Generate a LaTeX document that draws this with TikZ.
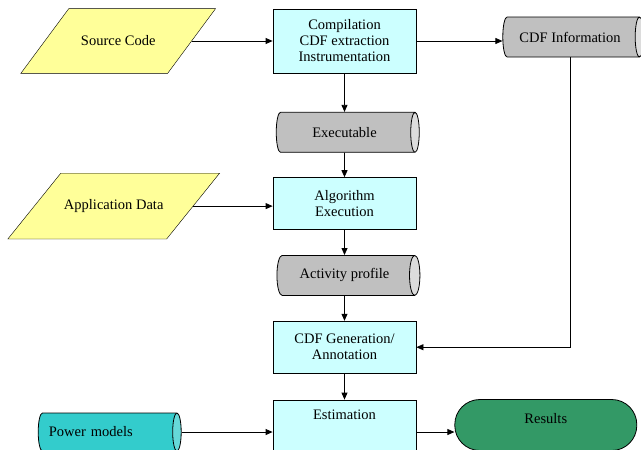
\documentclass[tikz,border=0pt]{standalone}
\usepackage{fontspec}
\setmainfont{Liberation Serif}
\usepackage{tikz}
\usetikzlibrary{arrows.meta, positioning, shapes.geometric, backgrounds}
\usepackage{xcolor}
\definecolor{procfill}{HTML}{CCFFFF}
\definecolor{iofill}{HTML}{FFFF99}
\definecolor{storebody}{HTML}{C0C0C0}
\definecolor{storeend}{HTML}{DCDCDC}
\definecolor{modelbody}{HTML}{33CCCC}
\definecolor{modelend}{HTML}{66D9D9}
\definecolor{resfill}{HTML}{339966}

\begin{document}
\begin{tikzpicture}[
    font=\fontsize{14.5}{16}\selectfont,
    line width=0.8pt,
    proc/.style={draw, fill=procfill, minimum width=143pt, minimum height=52pt,
                 align=center, inner sep=2pt},
    io/.style={minimum width=146pt, minimum height=64pt, inner sep=0pt},
    store/.style={draw, cylinder, aspect=0.6, minimum height=143pt, minimum width=40pt,
                  cylinder uses custom fill, cylinder body fill=storebody,
                  cylinder end fill=storeend, inner sep=2pt},
    arr/.style={-{Triangle[length=7pt, width=6pt]}},
]
\useasboundingbox (0,0) rectangle (641pt,-450pt);

\node[proc, minimum height=64pt] (comp) at (344.5pt,-41pt)
     {Compilation\\CDF extraction\\Instrumentation};
\node[store, below=38.5pt of comp] (exe) {Executable};
\node[proc, below=24.5pt of exe] (alg) {Algorithm\\Execution};
\node[store, below=25pt of alg] (act) {Activity profile};
\node[proc, below=25pt of act] (gen) {CDF Generation/\\Annotation};
\node[proc, below=26pt of gen, minimum height=50pt] (est) {Estimation\\[4pt]\mbox{}};

\node[store, right=86pt of comp, yshift=4pt, minimum height=141pt] (info) {CDF Information};
\node[io, left=81pt of comp] (src) {Source Code};
\node[io, left=79.5pt of alg, yshift=-2.5pt, minimum width=158pt, minimum height=65pt] (app)
     {Application Data};
\node[store, left=91pt of est, yshift=-7pt, minimum width=38pt,
      cylinder body fill=modelbody, cylinder end fill=modelend,
      text width=115pt, align=left] (power) {Power models};
\node[draw, fill=resfill, rounded corners=25pt, minimum width=182pt, minimum height=51pt,
      align=center, right=38pt of est] (res) {Results\\[-3pt]\mbox{}};

\begin{scope}[on background layer]
\draw[fill=iofill] ([xshift=-24pt]src.south west) -- ([xshift=-24pt]src.south east)
    -- ([xshift=24pt]src.north east) -- ([xshift=24pt]src.north west) -- cycle;
\draw[fill=iofill] ([xshift=-26.5pt]app.south west) -- ([xshift=-26.5pt]app.south east)
    -- ([xshift=26.5pt]app.north east) -- ([xshift=26.5pt]app.north west) -- cycle;
\end{scope}

\draw[arr] (src) -- (comp);
\draw[arr] (comp) -- (comp -| info.west);
\draw[arr] (comp) -- (exe);
\draw[arr] (exe) -- (alg);
\draw[arr] (app.east) -- (app.east -| alg.west);
\draw[arr] (alg) -- (act);
\draw[arr] (act) -- (gen);
\draw[arr] (info.south) |- (gen.east);
\draw[arr] (gen) -- (est);
\draw[arr] (power.east) -- (power.east -| est.west);
\draw[arr] (power.east -| est.east) -- (power.east -| res.west);
\end{tikzpicture}
\end{document}
